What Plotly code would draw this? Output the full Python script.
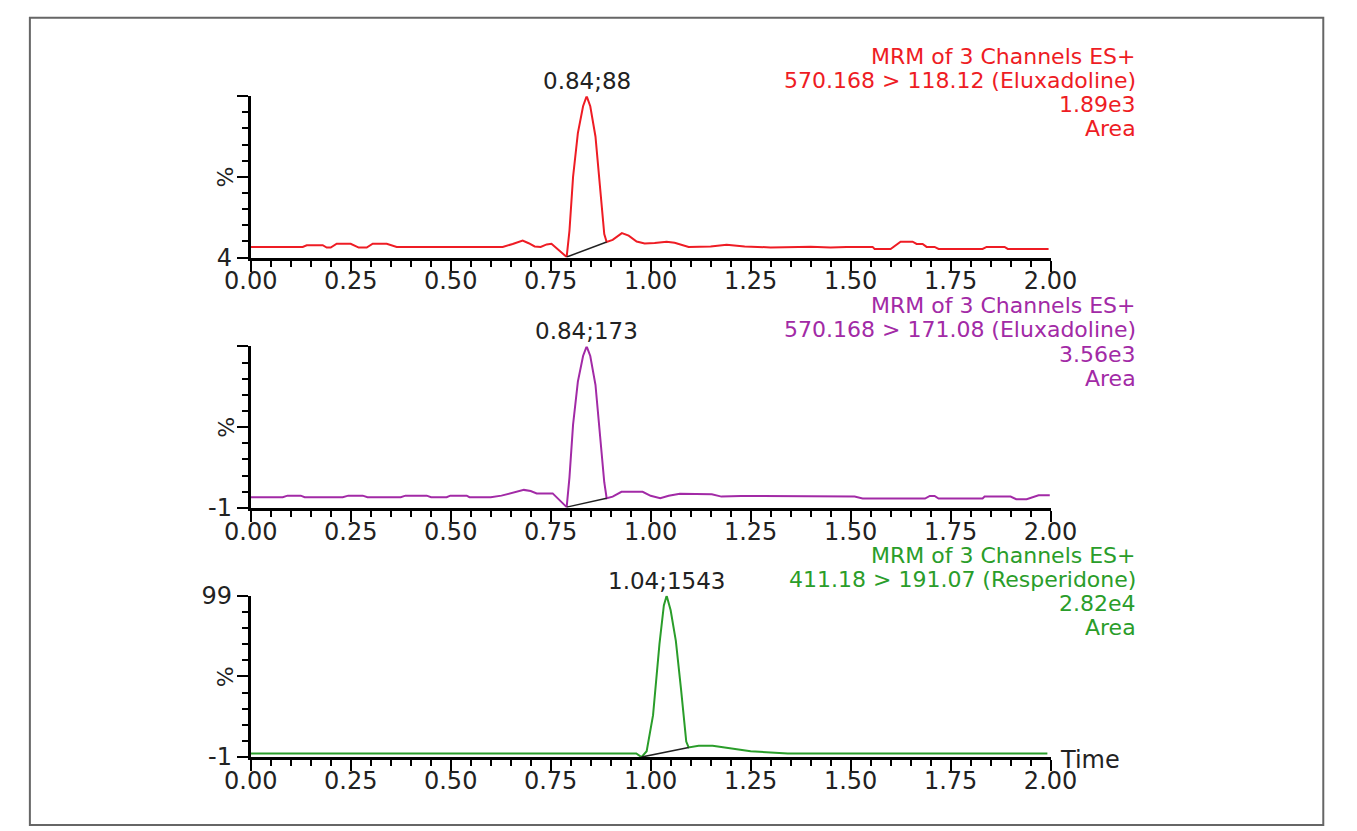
import plotly.graph_objects as go

W, H = 1357, 831

# --- channel 1: 570.168 > 118.12 (Eluxadoline), relative intensity %
t_ch1 = [0.00, 0.13, 0.14, 0.18, 0.19, 0.20, 0.215, 0.25, 0.27, 0.29, 0.305, 0.34, 0.365,
         0.63, 0.655, 0.68, 0.695, 0.71, 0.725, 0.74, 0.752, 0.765, 0.79,
         0.797, 0.806, 0.818, 0.831, 0.84, 0.849, 0.862, 0.874, 0.884, 0.89,
         0.905, 0.928, 0.945, 0.965, 0.985, 1.01, 1.04, 1.06, 1.095, 1.15, 1.19, 1.235,
         1.30, 1.37, 1.40, 1.45, 1.49, 1.555, 1.56, 1.60, 1.625, 1.655, 1.665, 1.68,
         1.69, 1.71, 1.72, 1.83, 1.84, 1.885, 1.893, 1.995]
i_ch1 = [10.3, 10.3, 11.3, 11.3, 9.9, 9.9, 12.2, 12.2, 9.9, 9.9, 12.2, 12.2, 10.3,
         10.3, 12.0, 14.1, 12.5, 10.6, 10.3, 11.8, 12.2, 9.5, 4.3,
         20, 52, 78, 94, 100, 94, 76, 44, 18, 13.2,
         14.5, 18.5, 17.0, 13.5, 12.3, 12.6, 13.4, 12.8, 10.3, 10.6, 11.6, 10.6,
         10.0, 10.3, 10.4, 10.0, 10.3, 10.3, 9.1, 9.1, 13.4, 13.4, 12.1, 12.1,
         10.3, 10.3, 9.1, 9.1, 10.3, 10.3, 9.1, 9.1]
base_t1 = [0.79, 0.89]
base_i1 = [4.3, 13.2]

# --- channel 2: 570.168 > 171.08 (Eluxadoline)
t_ch2 = [0.00, 0.08, 0.092, 0.125, 0.135, 0.23, 0.244, 0.28, 0.292, 0.375, 0.387, 0.44,
         0.451, 0.49, 0.499, 0.54, 0.547, 0.60, 0.627, 0.66, 0.683, 0.70, 0.715, 0.755, 0.79,
         0.797, 0.806, 0.818, 0.831, 0.84, 0.849, 0.862, 0.874, 0.884, 0.89,
         0.905, 0.927, 0.98, 1.00, 1.024, 1.045, 1.073, 1.153, 1.177, 1.226, 1.30, 1.40,
         1.51, 1.53, 1.686, 1.698, 1.71, 1.72, 1.83, 1.835, 1.90, 1.914, 1.94, 1.97, 1.998]
i_ch2 = [5.6, 5.6, 6.6, 6.6, 5.6, 5.6, 6.6, 6.6, 5.6, 5.6, 6.6, 6.6,
         5.6, 5.6, 6.6, 6.6, 5.6, 5.6, 6.6, 9.0, 10.2, 9.5, 8.0, 8.0, -0.6,
         18, 51, 78, 94, 100, 94, 76, 44, 15, 5.0,
         6.0, 9.0, 9.0, 6.5, 5.0, 6.5, 7.8, 7.4, 6.0, 6.4, 6.4, 6.0,
         6.0, 4.8, 4.8, 6.4, 6.4, 4.8, 4.8, 6.0, 6.0, 4.4, 4.4, 6.8, 6.8]
base_t2 = [0.79, 0.89]
base_i2 = [-0.6, 5.0]

# --- channel 3: 411.18 > 191.07 (Resperidone)
t_ch3 = [0.00, 0.964, 0.977, 0.99, 1.006, 1.022, 1.033, 1.04, 1.05, 1.063, 1.076, 1.089,
         1.095, 1.12, 1.155, 1.206, 1.25, 1.343, 1.992]
i_ch3 = [1.2, 1.2, -1.0, 2.6, 25, 69, 93, 99, 90, 71, 41, 8.6,
         5.0, 6.0, 6.0, 4.0, 2.6, 1.2, 1.2]
base_t3 = [0.977, 1.095]
base_i3 = [-1.0, 5.0]

y_ranges = [(4, 100), (-1, 100), (-1, 99)]
y_ticktext = [["4", "", ""], ["-1", "", ""], ["-1", "", "99"]]
peak_labels = [(0.84, "0.84;88"), (0.84, "0.84;173"), (1.04, "1.04;1543")]
headers = [
    ["MRM of 3 Channels ES+", "570.168 > 118.12 (Eluxadoline)", "1.89e3", "Area"],
    ["MRM of 3 Channels ES+", "570.168 > 171.08 (Eluxadoline)", "3.56e3", "Area"],
    ["MRM of 3 Channels ES+", "411.18 > 191.07 (Resperidone)", "2.82e4", "Area"],
]
colors = ["#ee1c24", "#a22aa6", "#2a9d2a"]

# pixel layout of the three stacked panels (top, bottom of plot area)
panel_px = [(85, 252), (344, 511), (602, 769)]
x_left, x_right = 233, 1066
header_top = [44, 302, 560]

FONT = "DejaVu Sans"

fig = go.Figure()
series = [(t_ch1, i_ch1, base_t1, base_i1), (t_ch2, i_ch2, base_t2, base_i2),
          (t_ch3, i_ch3, base_t3, base_i3)]

for k, (tt, ii, bt, bi) in enumerate(series):
    xa = "x" if k == 0 else f"x{k+1}"
    ya = "y" if k == 0 else f"y{k+1}"
    fig.add_trace(go.Scatter(x=tt, y=ii, mode="lines", xaxis=xa, yaxis=ya,
                             line=dict(color=colors[k], width=2), showlegend=False,
                             hoverinfo="skip"))
    fig.add_trace(go.Scatter(x=bt, y=bi, mode="lines", xaxis=xa, yaxis=ya,
                             line=dict(color="#222222", width=1.5), showlegend=False,
                             hoverinfo="skip"))

layout = dict(
    width=W, height=H, autosize=False,
    margin=dict(l=0, r=0, t=0, b=0, pad=0),
    paper_bgcolor="white", plot_bgcolor="white",
    font=dict(family=FONT, color="#1a1a1a"),
    showlegend=False,
)

annotations = []
for k in range(3):
    top, bot = panel_px[k]
    ymin, ymax = y_ranges[k]
    xkey = "xaxis" if k == 0 else f"xaxis{k+1}"
    ykey = "yaxis" if k == 0 else f"yaxis{k+1}"
    ya = "y" if k == 0 else f"y{k+1}"
    xa = "x" if k == 0 else f"x{k+1}"
    layout[xkey] = dict(
        domain=[x_left / W, x_right / W], anchor=ya, range=[0, 2.0],
        showgrid=False, zeroline=False, showline=True, linecolor="black", linewidth=3,
        ticks="outside", tick0=0, dtick=0.25, tickformat=".2f", ticklen=11,
        tickwidth=2, tickcolor="black", ticklabelstandoff=-11,
        tickfont=dict(family=FONT, size=24, color="#222222"),
        minor=dict(ticks="outside", dtick=0.05, tick0=0, ticklen=6, tickwidth=2,
                   tickcolor="black"),
        fixedrange=True,
    )
    layout[ykey] = dict(
        domain=[(H - bot) / H, (H - top) / H], anchor=xa, range=[ymin, ymax],
        showgrid=False, zeroline=False, showline=True, linecolor="black", linewidth=3,
        ticks="outside", tickvals=[ymin, (ymin + ymax) / 2, ymax],
        ticktext=y_ticktext[k], ticklen=11, tickwidth=2, tickcolor="black",
        tickfont=dict(family=FONT, size=24, color="#222222"),
        minor=dict(ticks="outside", tick0=ymin, dtick=(ymax - ymin) / 10, ticklen=6,
                   tickwidth=2, tickcolor="black"),
        fixedrange=True,
    )
    # "%" axis title, rotated
    annotations.append(dict(
        text="%", xref="paper", yref="paper", x=207 / W, y=(H - (top + bot) / 2) / H,
        textangle=-90, showarrow=False, font=dict(family=FONT, size=22, color="#222222"),
        xanchor="center", yanchor="middle"))
    # peak label
    px, ptxt = peak_labels[k]
    annotations.append(dict(
        text=ptxt, xref=xa, yref=ya, x=px, y=ymax, yanchor="bottom", yshift=0,
        showarrow=False, font=dict(family=FONT, size=23, color="#222222")))
    # channel header block
    for j, line in enumerate(headers[k]):
        annotations.append(dict(
            text=line, xref="paper", yref="paper", x=1157 / W,
            y=(H - (header_top[k] + 25 * j)) / H, xanchor="right", yanchor="middle",
            showarrow=False, font=dict(family=FONT, size=22, color=colors[k])))

annotations.append(dict(
    text="Time", xref="paper", yref="paper", x=1074 / W, y=(H - 772) / H,
    xanchor="left", yanchor="middle", showarrow=False,
    font=dict(family=FONT, size=24, color="#222222")))

layout["annotations"] = annotations
layout["shapes"] = [dict(type="rect", xref="paper", yref="paper",
                         x0=3 / W, x1=1350 / W, y0=-0.01, y1=(H - 4) / H,
                         line=dict(color="#666666", width=2), fillcolor="rgba(0,0,0,0)")]

fig.update_layout(**layout)
fig.write_html(
    "out.html",
    config={"displayModeBar": False, "responsive": False},
    post_script="document.body.style.margin='0';document.body.style.overflow='hidden';",
)
